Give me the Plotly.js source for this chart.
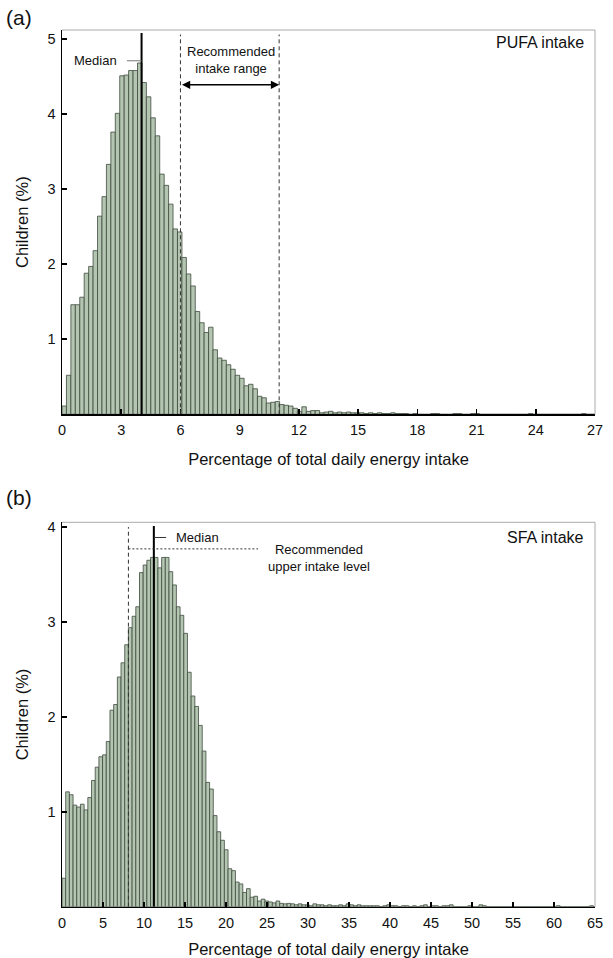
<!DOCTYPE html>
<html>
<head>
<meta charset="utf-8">
<script src="https://cdn.plot.ly/plotly-3.0.1.min.js"></script>
<style>html,body{margin:0;padding:0;background:#fff;}#chart{width:613px;height:958px;}</style>
</head>
<body>
<div id="chart"></div>
<script>
// ---- Panel (a): PUFA intake, % of children per bin (bin width 0.225 %E)
const pufaBinWidth = 0.225;
const pufaValues = [
  0.11, 0.52, 1.46, 1.46, 1.56, 1.88, 1.97, 2.18, 2.64, 2.90,
  3.33, 3.76, 4.01, 4.51, 4.52, 4.58, 4.58, 4.68, 4.42, 4.23,
  3.95, 3.71, 3.20, 3.05, 2.80, 2.47, 2.43, 2.09, 1.87, 1.71,
  1.37, 1.22, 1.09, 1.16, 0.86, 0.75, 0.72, 0.66, 0.60, 0.52,
  0.48, 0.38, 0.40, 0.34, 0.24, 0.22, 0.15, 0.16, 0.17, 0.13,
  0.12, 0.11, 0.08, 0.04, 0.10, 0.04, 0.05, 0.05, 0.02, 0.03,
  0.04, 0.02, 0.03, 0.02, 0.03, 0.02, 0.02, 0.02, 0.01, 0.02,
  0.01, 0.02, 0.01, 0.01, 0.02, 0.01, 0.01, 0.01, 0, 0.01,
  0, 0, 0, 0.01, 0.01, 0, 0, 0, 0.01, 0.01,
  0, 0, 0.01, 0.01, 0, 0, 0, 0, 0, 0,
  0, 0, 0, 0, 0, 0.01, 0, 0, 0, 0,
  0, 0, 0, 0, 0, 0, 0, 0.01, 0, 0
];
const pufaTicks = [0, 3, 6, 9, 12, 15, 18, 21, 24, 27];
const pufaMedian = 4.03;
const pufaRange = [6, 11];

// ---- Panel (b): SFA intake, % of children per bin (bin width 0.45 %E)
const sfaBinWidth = 0.45;
const sfaValues = [
  0.30, 1.21, 1.18, 1.07, 1.05, 1.08, 1.02, 1.15, 1.33, 1.47,
  1.58, 1.60, 1.74, 2.07, 2.13, 2.42, 2.57, 2.76, 2.94, 3.06,
  3.16, 3.52, 3.60, 3.65, 3.68, 3.68, 3.57, 3.68, 3.68, 3.53,
  3.39, 3.16, 3.07, 2.88, 2.47, 2.22, 2.11, 1.91, 1.64, 1.31,
  1.24, 0.96, 0.79, 0.70, 0.60, 0.40, 0.38, 0.26, 0.24, 0.15,
  0.19, 0.10, 0.11, 0.06, 0.08, 0.06, 0.05, 0.04, 0.06, 0.035,
  0.03, 0.035, 0.03, 0.02, 0.03, 0.02, 0.02, 0.01, 0.03, 0.02,
  0.02, 0.01, 0.02, 0.01, 0.01, 0.02, 0.01, 0.03, 0.02, 0.01,
  0.02, 0.01, 0.01, 0.01, 0.01, 0.01, 0, 0.01, 0.02, 0.01,
  0.01, 0, 0.01, 0.01, 0, 0.01, 0, 0.01, 0.02, 0,
  0.01, 0.01, 0, 0.01, 0.01, 0.02, 0, 0, 0, 0,
  0.01, 0, 0, 0.02, 0.01, 0, 0, 0, 0, 0,
  0, 0, 0, 0, 0, 0, 0, 0, 0, 0,
  0, 0, 0, 0, 0.01, 0, 0, 0, 0, 0,
  0, 0, 0, 0.01, 0
];
const sfaTicks = [0, 5, 10, 15, 20, 25, 30, 35, 40, 45, 50, 55, 60, 65];
const sfaMedian = 11.2;
const sfaUpper = 8.1;

const xTitle = 'Percentage of total daily energy intake';
const yTitle = 'Children (%)';

const centers = (vals, w) => vals.map((_, i) => i * w + w / 2);

const FONT = 'Liberation Sans, Arial, Helvetica, sans-serif';
const barFill = '#b4c6b1';
const barEdge = '#3e4a3d';

const traces = [
  {type: 'bar', x: centers(pufaValues, pufaBinWidth), y: pufaValues, width: pufaBinWidth,
   xaxis: 'x', yaxis: 'y', marker: {color: barFill, line: {color: barEdge, width: 0.8}},
   showlegend: false, hoverinfo: 'skip'},
  {type: 'bar', x: centers(sfaValues, sfaBinWidth), y: sfaValues, width: sfaBinWidth,
   xaxis: 'x2', yaxis: 'y2', marker: {color: barFill, line: {color: barEdge, width: 0.8}},
   showlegend: false, hoverinfo: 'skip'}
];

const W = 613, H = 958;
const px = v => v / W;
const py = v => 1 - v / H;
const xDom = [px(62), px(595)];
const yDomA = [py(414.3), py(30)];
const yDomB = [py(906.7), py(522.3)];

const axisCommon = {
  showline: true, linecolor: '#000', linewidth: 1.5, ticks: 'inside', ticklen: 5,
  tickwidth: 1.5, tickcolor: '#000', showgrid: false, zeroline: false,
  tickfont: {family: FONT, size: 14.5, color: '#111'}, fixedrange: true
};
const titleFont = {family: FONT, size: 16.5, color: '#111'};

const layout = {
  width: W, height: H, margin: {l: 0, r: 0, t: 0, b: 0},
  paper_bgcolor: '#fff', plot_bgcolor: '#fff', bargap: 0, showlegend: false,
  font: {family: FONT, color: '#111'},
  xaxis: Object.assign({}, axisCommon, {domain: xDom, anchor: 'y', range: [0, 27],
    tickmode: 'array', tickvals: pufaTicks, ticklabelstandoff: 2,
    title: {text: xTitle, font: titleFont, standoff: 16}}),
  yaxis: Object.assign({}, axisCommon, {domain: yDomA, anchor: 'x', range: [0, 5.12],
    tickmode: 'array', tickvals: [1, 2, 3, 4, 5], ticklabelstandoff: 2,
    title: {text: yTitle, font: titleFont, standoff: 14}}),
  xaxis2: Object.assign({}, axisCommon, {domain: xDom, anchor: 'y2', range: [0, 65],
    tickmode: 'array', tickvals: sfaTicks, ticklabelstandoff: 2,
    title: {text: xTitle, font: titleFont, standoff: 16}}),
  yaxis2: Object.assign({}, axisCommon, {domain: yDomB, anchor: 'x2', range: [0, 4.05],
    tickmode: 'array', tickvals: [1, 2, 3, 4], ticklabelstandoff: 2,
    title: {text: yTitle, font: titleFont, standoff: 14}}),
  shapes: [
    // gray frame top/right
    {type: 'line', xref: 'paper', yref: 'paper', x0: xDom[0], x1: xDom[1], y0: yDomA[1], y1: yDomA[1], line: {color: '#aaa', width: 1}},
    {type: 'line', xref: 'paper', yref: 'paper', x0: xDom[1], x1: xDom[1], y0: yDomA[0], y1: yDomA[1], line: {color: '#aaa', width: 1}},
    {type: 'line', xref: 'paper', yref: 'paper', x0: xDom[0], x1: xDom[1], y0: yDomB[1], y1: yDomB[1], line: {color: '#aaa', width: 1}},
    {type: 'line', xref: 'paper', yref: 'paper', x0: xDom[1], x1: xDom[1], y0: yDomB[0], y1: yDomB[1], line: {color: '#aaa', width: 1}},
    // panel (a)
    {type: 'line', xref: 'x', yref: 'y', x0: pufaMedian, x1: pufaMedian, y0: 0, y1: 5.08, line: {color: '#000', width: 2}},
    {type: 'line', xref: 'x', yref: 'y', x0: 3.29, x1: pufaMedian, y0: 4.71, y1: 4.71, line: {color: '#777', width: 1}},
    {type: 'line', xref: 'x', yref: 'y', x0: pufaRange[0], x1: pufaRange[0], y0: 0, y1: 5.06, line: {color: '#333', width: 1, dash: '4px,3px'}},
    {type: 'line', xref: 'x', yref: 'y', x0: pufaRange[1], x1: pufaRange[1], y0: 0, y1: 5.06, line: {color: '#333', width: 1, dash: '4px,3px'}},
    // panel (b)
    {type: 'line', xref: 'x2', yref: 'y2', x0: sfaMedian, x1: sfaMedian, y0: 0, y1: 4.01, line: {color: '#000', width: 2}},
    {type: 'line', xref: 'x2', yref: 'y2', x0: sfaMedian, x1: 12.7, y0: 3.89, y1: 3.89, line: {color: '#333', width: 1}},
    {type: 'line', xref: 'x2', yref: 'y2', x0: sfaUpper, x1: sfaUpper, y0: 0, y1: 4.0, line: {color: '#333', width: 1, dash: '4px,3px'}},
    {type: 'line', xref: 'x2', yref: 'y2', x0: sfaUpper, x1: 23.9, y0: 3.77, y1: 3.77, line: {color: '#333', width: 1, dash: '2px,2px'}}
  ],
  annotations: [
    {xref: 'paper', yref: 'paper', x: px(4), y: py(18), xanchor: 'left', yanchor: 'middle', showarrow: false,
     text: '(a)', font: {family: FONT, size: 21, color: '#111'}},
    {xref: 'paper', yref: 'paper', x: px(4), y: py(498), xanchor: 'left', yanchor: 'middle', showarrow: false,
     text: '(b)', font: {family: FONT, size: 21, color: '#111'}},
    {xref: 'paper', yref: 'paper', x: px(586), y: py(43), xanchor: 'right', yanchor: 'middle', showarrow: false,
     text: 'PUFA intake', font: {family: FONT, size: 16, color: '#111'}},
    {xref: 'paper', yref: 'paper', x: px(586), y: py(537), xanchor: 'right', yanchor: 'middle', showarrow: false,
     text: 'SFA intake', font: {family: FONT, size: 16, color: '#111'}},
    {xref: 'x', yref: 'y', x: 2.9, y: 4.71, xanchor: 'right', yanchor: 'middle', showarrow: false,
     text: 'Median', font: {family: FONT, size: 13, color: '#111'}},
    {xref: 'x', yref: 'y', x: 8.55, y: 4.72, xanchor: 'center', yanchor: 'middle', showarrow: false,
     text: 'Recommended<br>intake range', font: {family: FONT, size: 13, color: '#111'}},
    {xref: 'x', yref: 'y', x: pufaRange[1], y: 4.39, ax: pufaRange[0], ay: 4.39, axref: 'x', ayref: 'y',
     text: '', showarrow: true, arrowside: 'end+start', arrowhead: 2, arrowsize: 1.1, arrowwidth: 1.5, arrowcolor: '#000'},
    {xref: 'x2', yref: 'y2', x: 13.7, y: 3.89, xanchor: 'left', yanchor: 'middle', showarrow: false,
     text: 'Median', font: {family: FONT, size: 13, color: '#111'}},
    {xref: 'x2', yref: 'y2', x: 31.3, y: 3.67, xanchor: 'center', yanchor: 'middle', showarrow: false,
     text: 'Recommended<br>upper intake level', font: {family: FONT, size: 13, color: '#111'}}
  ]
};

Plotly.newPlot('chart', traces, layout, {staticPlot: true, displayModeBar: false});
</script>
</body>
</html>
